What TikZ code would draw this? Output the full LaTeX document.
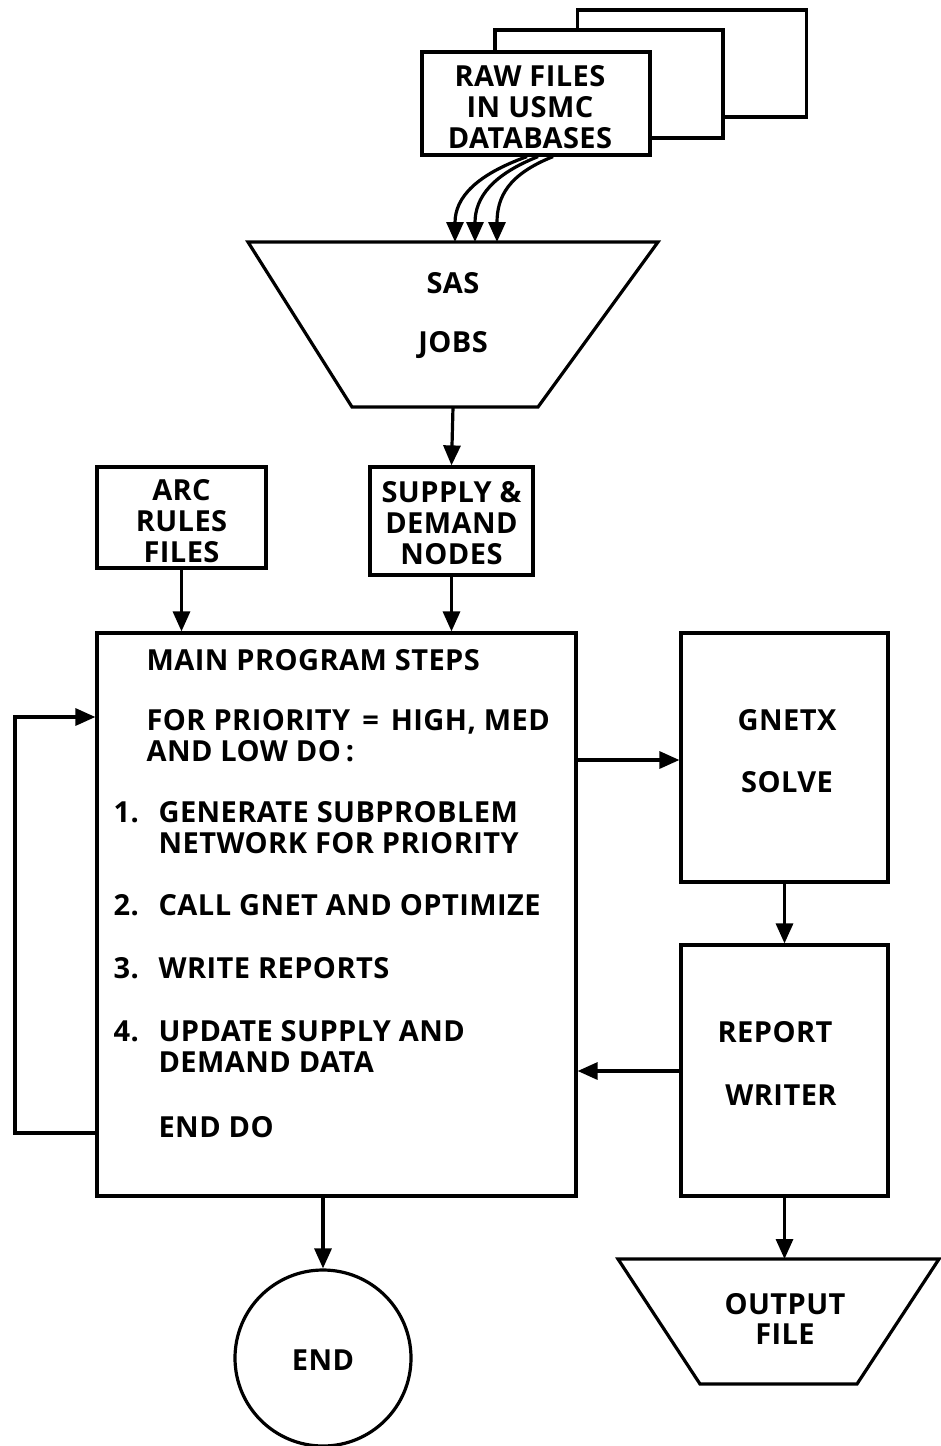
\documentclass[tikz,border=0pt]{standalone}
\usepackage{fontspec}
\newfontfamily\chartfam{Open Sans}[LetterSpace=1.5]
\usetikzlibrary{arrows.meta}
\newcommand{\chartfont}{\chartfam\bfseries\fontsize{29}{31}\selectfont}
\begin{document}
\begin{tikzpicture}[x=1pt, y=-1pt,
  every path/.style={line width=3.2pt},
  box/.style={draw, fill=white, inner sep=0pt, line width=3.2pt},
  lbl/.style={font=\chartfont, inner sep=0pt, align=center},
  txt/.style={font=\chartfont, inner sep=0pt, anchor=base west},
  shape line/.style={line width=3.2pt, line join=miter},
  arr/.style={-{Triangle[length=20pt,width=17pt]}, line width=3.2pt},
]
\useasboundingbox (0,0) rectangle (941,1446);

% stacked raw data files
\node[box, minimum width=229pt, minimum height=107pt] (file3) at (692,63.5) {};
\node[box, minimum width=228pt, minimum height=108pt] (file2) at (609,84) {};
\node[box, minimum width=228pt, minimum height=103pt] (raw) at (536,103.5) {};
\node[lbl] (rawtxt) at (530,107) {RAW FILES\\IN USMC\\DATABASES};

% SAS jobs (trapezoid)
\coordinate (sas-tl) at (248,242);
\coordinate (sas-tr) at (658,242);
\coordinate (sas-br) at (538,407);
\coordinate (sas-bl) at (352,407);
\coordinate (sas-top) at (453,242);
\coordinate (sas-bot) at (453,407);
\draw[shape line] (sas-tl) -- (sas-tr) -- (sas-br) -- (sas-bl) -- cycle;
\node[lbl] (sas1) at (453,283) {SAS};
\node[lbl] (sas2) at (453,345) {JOBS};

% curved feeds from the raw files
\draw[arr] ([xshift=-9pt]raw.south) .. controls +(-50,18) and +(0,-45) .. ([xshift=2pt]sas-top);
\draw[arr] ([xshift=2pt]raw.south) .. controls +(-45,18) and +(0,-45) .. ([xshift=22pt]sas-top);
\draw[arr] ([xshift=17pt]raw.south) .. controls +(-45,18) and +(0,-45) .. ([xshift=44pt]sas-top);

% input boxes
\node[box, minimum width=169pt, minimum height=101pt] (arc) at (181.5,517.5) {};
\node[lbl] (arctxt) at (181.5,521) {ARC\\RULES\\FILES};
\node[box, minimum width=163pt, minimum height=108pt] (sd) at (451.5,521) {};
\node[lbl] (sdtxt) at (451.5,523) {SUPPLY \&\\DEMAND\\NODES};

% main program
\node[box, minimum width=479pt, minimum height=563pt] (main) at (336.5,914.5) {};
\node[txt] (t0) at (145,670) {MAIN PROGRAM STEPS};
\node[txt] (t1) at (145,730) {FOR PRIORITY\hspace{12pt}=\hspace{12pt}HIGH, MED};
\node[txt] (t2) at (145,761) {AND LOW DO\,:};
\node[txt] (n1) at (112,822) {1.};
\node[txt] (t3) at (157,822) {GENERATE SUBPROBLEM};
\node[txt] (t4) at (157,853) {NETWORK FOR PRIORITY};
\node[txt] (n2) at (112,915) {2.};
\node[txt] (t5) at (157,915) {CALL GNET AND OPTIMIZE};
\node[txt] (n3) at (112,978) {3.};
\node[txt] (t6) at (157,978) {WRITE REPORTS};
\node[txt] (n4) at (112,1041) {4.};
\node[txt] (t7) at (157,1041) {UPDATE SUPPLY AND};
\node[txt] (t8) at (157,1072) {DEMAND DATA};
\node[txt] (t9) at (157,1137) {END DO};

% solver and report writer
\node[box, minimum width=207pt, minimum height=249pt] (gnetx) at (784.5,757.5) {};
\node[lbl] (g1) at (787,720) {GNETX};
\node[lbl] (g2) at (787,782) {SOLVE};
\node[box, minimum width=207pt, minimum height=251pt] (report) at (784.5,1070.5) {};
\node[lbl] (r1) at (775,1032) {REPORT};
\node[lbl] (r2) at (781,1095) {WRITER};

% output file (trapezoid)
\coordinate (out-tl) at (618,1259);
\coordinate (out-tr) at (939,1259);
\coordinate (out-br) at (857,1384);
\coordinate (out-bl) at (700,1384);
\coordinate (out-top) at (784.5,1259);
\draw[shape line] (out-tl) -- (out-tr) -- (out-br) -- (out-bl) -- cycle;
\node[lbl] (o1) at (785,1304) {OUTPUT};
\node[lbl] (o2) at (785,1334) {FILE};

% end
\node[draw, circle, minimum size=176pt, inner sep=0pt, line width=3.2pt] (endc) at (323,1358) {};
\node[lbl] (e1) at (323,1360) {END};

% connectors
\draw[arr] (sas-bot) -- (sd.north);
\draw[arr] (arc.south) -- (arc.south |- main.north);
\draw[arr] (sd.south) -- (sd.south |- main.north);
\draw[arr] (main.east |- 0,760) -- (gnetx.west |- 0,760);
\draw[arr] (gnetx.south) -- (report.north);
\draw[arr] (report.west |- 0,1071) -- (main.east |- 0,1071);
\draw[arr] (report.south) -- (out-top);
\draw[arr] (323,1196) -- (endc.north);
\draw[arr] (main.west |- 0,1133) -- (15,1133) -- (15,717) -- (main.west |- 0,717);
\end{tikzpicture}
\end{document}
